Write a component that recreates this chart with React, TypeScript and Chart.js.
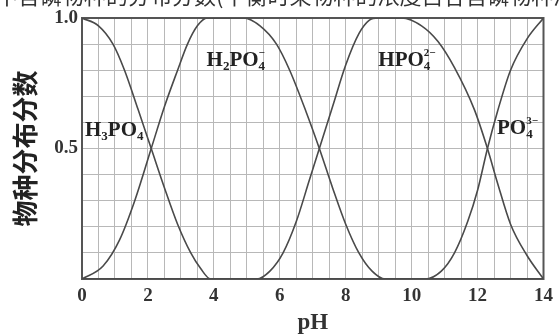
import React, { useEffect, useRef } from "react";
import { Chart, registerables } from "chart.js";
Chart.register(...registerables);

// pH positions and distribution fractions
const H3PO4_PH = [0, 0.5, 0.94, 1.29, 1.7, 2.1, 2.5, 2.9, 3.3, 3.6, 3.9, 14];
const H3PO4_FR = [1, 0.97, 0.9, 0.8, 0.65, 0.5, 0.35, 0.21, 0.1, 0.04, 0, 0];

const H2PO4_PH = [0, 0.64, 1.14, 1.6, 2.1, 2.5, 2.9, 3.2, 3.5, 3.8, 4.9, 5.4, 5.9, 6.3, 6.8, 7.2, 7.6, 8.0, 8.4, 8.8, 9.2, 14];
const H2PO4_FR = [0, 0.05, 0.15, 0.3, 0.5, 0.66, 0.8, 0.9, 0.97, 1, 1, 0.97, 0.9, 0.8, 0.64, 0.5, 0.35, 0.21, 0.1, 0.03, 0, 0];

const HPO4_PH = [0, 5.3, 5.7, 6.1, 6.5, 6.9, 7.2, 7.6, 8.0, 8.4, 8.7, 9.0, 9.7, 10.3, 10.8, 11.3, 11.9, 12.3, 12.6, 13.0, 13.5, 14];
const HPO4_FR = [0, 0, 0.03, 0.1, 0.22, 0.38, 0.5, 0.66, 0.82, 0.94, 0.99, 1, 1, 0.97, 0.91, 0.81, 0.65, 0.5, 0.37, 0.21, 0.09, 0];

const PO4_PH = [0, 10.4, 10.9, 11.3, 11.7, 12.0, 12.3, 12.6, 13.0, 13.5, 14];
const PO4_FR = [0, 0, 0.03, 0.1, 0.22, 0.34, 0.5, 0.64, 0.8, 0.92, 1];

const X_TICK_LABELS = ["0", "2", "4", "6", "8", "10", "12", "14"];
const Y_TICK_LABELS = ["0.5", "1.0"];
const Y_TITLE = "物种分布分数";
const X_TITLE = "pH";
const TOP_TEXT = "中含磷物种的分布分数(平衡时某物种的浓度占各含磷物种浓度之和的分数)";

// species labels; kind n=normal, b=subscript, s=stacked sub+sup
type Part = [string, string, string?];
const SPECIES_LABELS: { pH: number; fr: number; parts: Part[] }[] = [
  { pH: 0.09, fr: 0.548, parts: [["n", "H"], ["b", "3"], ["n", "PO"], ["b", "4"]] },
  { pH: 3.78, fr: 0.816, parts: [["n", "H"], ["b", "2"], ["n", "PO"], ["s", "4", "−"]] },
  { pH: 8.99, fr: 0.816, parts: [["n", "HPO"], ["s", "4", "2−"]] },
  { pH: 12.59, fr: 0.556, parts: [["n", "PO"], ["s", "4", "3−"]] },
];

const toPts = (xs: number[], ys: number[]) => xs.map((x, i) => ({ x, y: ys[i] }));

const LINE = "#4a4a4a";
const SERIF = '"Liberation Serif", "DejaVu Serif", serif';

const framePlugin = {
  id: "frame",
  beforeDatasetsDraw(chart: any) {
    const { ctx, chartArea: a } = chart;
    ctx.save();
    ctx.strokeStyle = "#555";
    ctx.lineWidth = 2;
    ctx.strokeRect(a.left, a.top, a.right - a.left, a.bottom - a.top);
    ctx.restore();
  },
};

// top line of text cut off by the picture's upper edge
const topTextPlugin = {
  id: "topText",
  afterDraw(chart: any) {
    const { ctx } = chart;
    ctx.save();
    ctx.fillStyle = "#333";
    ctx.font = '22px "Noto Sans CJK SC", sans-serif';
    ctx.textAlign = "left";
    ctx.textBaseline = "alphabetic";
    ctx.fillText(TOP_TEXT, -4, 4);
    ctx.restore();
  },
};

const labelPlugin = {
  id: "speciesLabels",
  afterDatasetsDraw(chart: any) {
    const { ctx, scales } = chart;
    ctx.save();
    ctx.fillStyle = "#222";
    ctx.textBaseline = "alphabetic";
    ctx.textAlign = "left";
    for (const lab of SPECIES_LABELS) {
      let x = scales.x.getPixelForValue(lab.pH);
      const y = scales.y.getPixelForValue(lab.fr);
      for (const p of lab.parts) {
        if (p[0] === "n") {
          ctx.font = `bold 21px ${SERIF}`;
          ctx.fillText(p[1], x, y);
          x += ctx.measureText(p[1]).width;
        } else if (p[0] === "b") {
          ctx.font = `bold 13px ${SERIF}`;
          ctx.fillText(p[1], x, y + 4);
          x += ctx.measureText(p[1]).width;
        } else {
          ctx.font = `bold 13px ${SERIF}`;
          ctx.fillText(p[1], x, y + 4);
          const w1 = ctx.measureText(p[1]).width;
          ctx.font = `bold 11px ${SERIF}`;
          ctx.fillText(p[2] || "", x, y - 10);
          const w2 = ctx.measureText(p[2] || "").width;
          x += Math.max(w1, w2);
        }
      }
    }
    ctx.restore();
  },
};

export default function App() {
  const ref = useRef<HTMLCanvasElement>(null);
  useEffect(() => {
    if (!ref.current) return;
    const ds = (xs: number[], ys: number[]) => ({
      data: toPts(xs, ys),
      borderColor: LINE,
      borderWidth: 1.6,
      pointRadius: 0,
      fill: false,
      cubicInterpolationMode: "monotone" as const,
    });
    const chart = new Chart(ref.current, {
      type: "line",
      data: {
        datasets: [
          ds(H3PO4_PH, H3PO4_FR),
          ds(H2PO4_PH, H2PO4_FR),
          ds(HPO4_PH, HPO4_FR),
          ds(PO4_PH, PO4_FR),
        ],
      },
      options: {
        animation: false,
        responsive: false,
        layout: { padding: { top: 18, right: 10, left: 0, bottom: 0 } },
        plugins: { legend: { display: false }, tooltip: { enabled: false } },
        scales: {
          x: {
            type: "linear",
            min: 0,
            max: 14,
            afterFit: (s: any) => { s.height = 57; },
            border: { display: false },
            grid: { color: "#b8b8b8", lineWidth: 1, drawTicks: false },
            ticks: {
              stepSize: 0.5,
              autoSkip: false,
              maxRotation: 0,
              padding: 6,
              color: "#333",
              font: { family: SERIF, size: 19, weight: "bold" },
              callback: (v: any) => {
                const r = Math.round(v);
                if (Math.abs(v - r) > 1e-6 || r % 2 !== 0) return "";
                const s = String(r);
                return X_TICK_LABELS.includes(s) ? s : "";
              },
            },
            title: {
              display: true,
              text: X_TITLE,
              color: "#333",
              font: { family: SERIF, size: 23, weight: "bold", lineHeight: 1 },
              padding: { top: 0, bottom: 1 },
            },
          },
          y: {
            type: "linear",
            min: 0,
            max: 1,
            afterFit: (s: any) => { s.width = 82; },
            border: { display: false },
            grid: { color: "#b8b8b8", lineWidth: 1, drawTicks: false },
            ticks: {
              stepSize: 0.1,
              autoSkip: false,
              padding: 4,
              color: "#333",
              font: { family: SERIF, size: 19, weight: "bold" },
              callback: (v: any) => {
                const s = Math.abs(v - 1) < 1e-6 ? "1.0" : Math.abs(v - 0.5) < 1e-6 ? "0.5" : "";
                return Y_TICK_LABELS.includes(s) ? s : "";
              },
            },
            title: {
              display: true,
              text: Y_TITLE,
              color: "#222",
              font: { family: '"Noto Sans CJK SC", sans-serif', size: 26, weight: "bold", lineHeight: 1 },
              padding: { top: 12, bottom: 0 },
            },
          },
        },
      },
      plugins: [framePlugin, labelPlugin, topTextPlugin],
    });
    return () => chart.destroy();
  }, []);

  return (
    <div style={{ position: "absolute", left: 0, top: 0, width: 559, height: 336, background: "#fff", overflow: "hidden" }}>
      <canvas ref={ref} width={559} height={336} style={{ width: 559, height: 336, display: "block" }} />
    </div>
  );
}
